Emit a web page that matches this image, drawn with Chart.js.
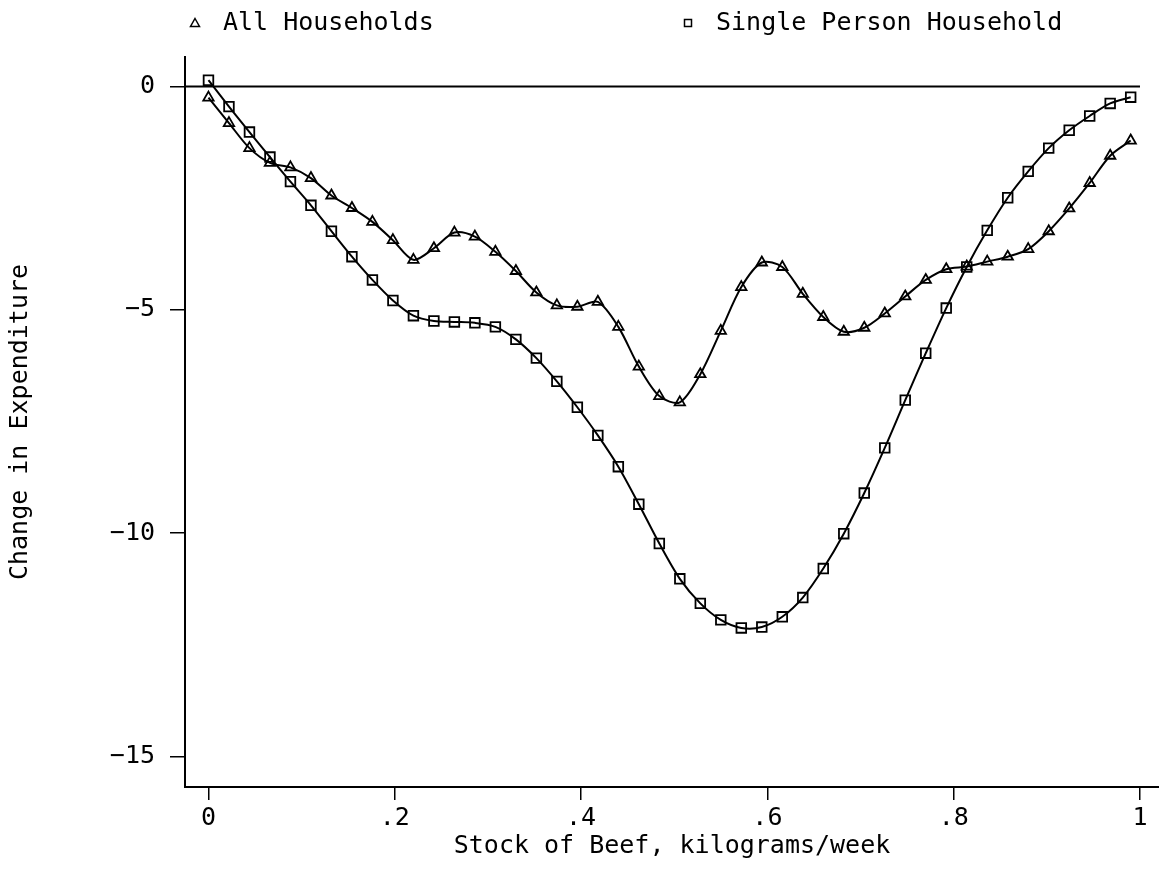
<!DOCTYPE html>
<html>
<head>
<meta charset="utf-8">
<script src="https://cdn.jsdelivr.net/npm/chart.js@4"></script>
<style>
  body { margin: 0; background: #fff; }
  canvas { display: block; }
</style>
</head>
<body>
<canvas id="lineChart" width="1159" height="870"></canvas>
<script>
// Stock of beef (kg/week) at each evaluated point
var stock = [0, 0.022, 0.044, 0.066, 0.088, 0.11, 0.132, 0.154, 0.176, 0.198,
  0.22, 0.242, 0.264, 0.286, 0.308, 0.33, 0.352, 0.374, 0.396, 0.418,
  0.44, 0.462, 0.484, 0.506, 0.528, 0.55, 0.572, 0.594, 0.616, 0.638,
  0.66, 0.682, 0.704, 0.726, 0.748, 0.77, 0.792, 0.814, 0.836, 0.858,
  0.88, 0.902, 0.924, 0.946, 0.968, 0.99];

// Change in expenditure, all households (triangles)
var allHouseholds = [-0.25, -0.82, -1.38, -1.71, -1.81, -2.05, -2.44, -2.72, -3.03, -3.44,
  -3.88, -3.62, -3.27, -3.36, -3.70, -4.13, -4.61, -4.90, -4.93, -4.82,
  -5.38, -6.27, -6.93, -7.07, -6.44, -5.47, -4.49, -3.94, -4.04, -4.64,
  -5.16, -5.49, -5.40, -5.08, -4.70, -4.33, -4.09, -4.03, -3.92, -3.81,
  -3.64, -3.24, -2.73, -2.16, -1.55, -1.21];

// Change in expenditure, single person household (squares)
var singlePerson = [0.14, -0.45, -1.02, -1.58, -2.13, -2.66, -3.24, -3.81, -4.33, -4.79,
  -5.13, -5.25, -5.27, -5.29, -5.38, -5.66, -6.08, -6.60, -7.18, -7.81,
  -8.51, -9.35, -10.23, -11.02, -11.57, -11.94, -12.12, -12.10, -11.87, -11.44,
  -10.79, -10.01, -9.10, -8.09, -7.02, -5.97, -4.96, -4.04, -3.22, -2.49,
  -1.90, -1.38, -0.98, -0.66, -0.38, -0.24];

var seriesNames = ['All Households', 'Single Person Household'];

var xTicks = [0, 0.2, 0.4, 0.6, 0.8, 1];
var xTickLabels = ['0', '.2', '.4', '.6', '.8', '1'];
var yTicks = [0, -5, -10, -15];
var yTickLabels = ['0', '\u22125', '\u221210', '\u221215'];

function toPoints(ys) {
  var pts = [];
  for (var i = 0; i < stock.length; i++) {
    pts.push({ x: stock[i], y: ys[i] });
  }
  return pts;
}

Chart.defaults.font.family = "'DejaVu Sans Mono', 'Liberation Mono', monospace";
Chart.defaults.font.size = 25;
Chart.defaults.color = '#000';

// horizontal reference line at zero, from the axis to x = 1
var zeroLine = {
  id: 'zeroLine',
  beforeDatasetsDraw: function(chart) {
    var c = chart.ctx, xs = chart.scales.x, ys = chart.scales.y;
    var y = Math.round(ys.getPixelForValue(0)) + 0.5;
    c.save();
    c.strokeStyle = '#000';
    c.lineWidth = 2;
    c.beginPath();
    c.moveTo(chart.chartArea.left, y);
    c.lineTo(xs.getPixelForValue(1), y);
    c.stroke();
    c.restore();
  }
};

// legend laid out like the original: two items, spread over the top
var topLegend = {
  id: 'topLegend',
  afterDraw: function(chart) {
    var c = chart.ctx;
    var spots = [195, 688];
    c.save();
    c.font = "25px 'DejaVu Sans Mono', 'Liberation Mono', monospace";
    c.fillStyle = '#000';
    c.strokeStyle = '#000';
    c.lineWidth = 1.5;
    c.textBaseline = 'middle';
    chart.data.datasets.forEach(function(ds, i) {
      var mx = spots[i], my = 23;
      c.beginPath();
      if (ds.pointStyle === 'triangle') {
        c.moveTo(mx, my - 4.5);
        c.lineTo(mx + 4.5, my + 3.5);
        c.lineTo(mx - 4.5, my + 3.5);
        c.closePath();
      } else {
        c.rect(mx - 3.5, my - 3.5, 7, 7);
      }
      c.stroke();
      c.fillText(ds.label, mx + 28, my);
    });
    c.restore();
  }
};

var ctx = document.getElementById('lineChart').getContext('2d');
var myChart = new Chart(ctx, {
  type: 'line',
  data: {
    datasets: [{
      label: seriesNames[0],
      data: toPoints(allHouseholds),
      borderColor: '#000',
      borderWidth: 2,
      tension: 0.3,
      pointStyle: 'triangle',
      pointRadius: 6,
      pointBorderWidth: 1.8,
      pointBorderColor: '#000',
      pointBackgroundColor: 'rgba(0,0,0,0)'
    }, {
      label: seriesNames[1],
      data: toPoints(singlePerson),
      borderColor: '#000',
      borderWidth: 2,
      tension: 0.3,
      pointStyle: 'rect',
      pointRadius: 6.8,
      pointBorderWidth: 1.8,
      pointBorderColor: '#000',
      pointBackgroundColor: 'rgba(0,0,0,0)'
    }]
  },
  options: {
    responsive: false,
    animation: false,
    layout: { autoPadding: false, padding: { top: 57, left: 0, right: 0, bottom: 0 } },
    plugins: {
      legend: { display: false },
      tooltip: { enabled: false }
    },
    scales: {
      x: {
        type: 'linear',
        min: -0.0252,
        max: 1.0204,
        afterFit: function(scale) {
          scale.height = 83;
          // let the axis run to the right edge like the original
          scale.paddingLeft = 0;
          scale.paddingRight = 0;
        },
        afterBuildTicks: function(scale) {
          scale.ticks = xTicks.map(function(v) { return { value: v }; });
        },
        ticks: {
          padding: 3,
          maxRotation: 0,
          callback: function(value) {
            var i = xTicks.indexOf(value);
            return i >= 0 ? xTickLabels[i] : '';
          }
        },
        grid: { drawOnChartArea: false, drawTicks: true, tickLength: 13, color: '#000', lineWidth: 1.5 },
        border: { display: true, color: '#000', width: 2 },
        title: { display: true, text: 'Stock of Beef, kilograms/week', padding: { top: 0, bottom: 9 } }
      },
      y: {
        min: -15.68,
        max: 0.66,
        afterFit: function(scale) {
          scale.width = 185;
          scale.paddingTop = 0;
          scale.paddingBottom = 0;
        },
        afterBuildTicks: function(scale) {
          scale.ticks = yTicks.map(function(v) { return { value: v }; });
        },
        ticks: {
          padding: 15,
          callback: function(value) {
            var i = yTicks.indexOf(value);
            return i >= 0 ? yTickLabels[i] : '';
          }
        },
        grid: { drawOnChartArea: false, drawTicks: true, tickLength: 15, color: '#000', lineWidth: 1.5 },
        border: { display: true, color: '#000', width: 2 },
        title: { display: true, text: 'Change in Expenditure', padding: { top: 5, bottom: 0 } }
      }
    }
  },
  plugins: [zeroLine, topLegend]
});
</script>
</body>
</html>
